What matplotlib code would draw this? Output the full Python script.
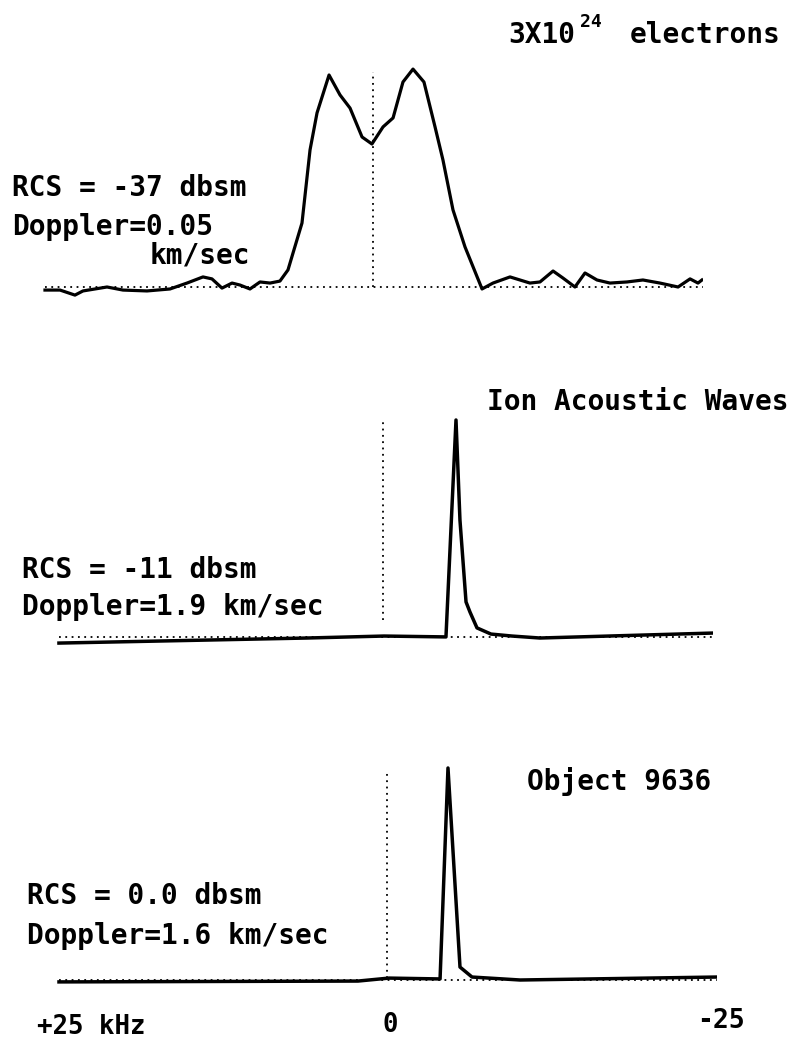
import matplotlib
matplotlib.use("Agg")
import matplotlib.pyplot as plt

# frequency in kHz (+25 on the left, -25 on the right), relative power
electrons_khz = [24.85, 23.71, 22.58, 21.97, 20.15, 18.94, 17.12, 15.38, 14.09, 12.88,
                 12.20, 11.44, 10.68, 10.08, 9.32, 8.56, 7.80, 7.05, 6.44, 6.06,
                 5.38, 4.77, 4.24, 3.33, 2.50, 1.74, 0.83, 0.08, -0.76, -1.52,
                 -2.27, -3.03, -3.86, -4.70, -5.30, -6.06, -6.97, -8.26, -9.09, -10.38,
                 -11.89, -12.65, -13.64, -14.39, -15.30, -16.06, -16.97, -17.95, -19.24, -20.45,
                 -21.74, -23.11, -24.02, -24.62, -24.92]
electrons_pow = [-0.014, -0.014, -0.037, -0.018, 0.0, -0.014, -0.018, -0.009, 0.018, 0.046,
                 0.037, -0.005, 0.018, 0.009, -0.009, 0.023, 0.018, 0.027, 0.078, 0.155,
                 0.292, 0.626, 0.795, 0.968, 0.877, 0.817, 0.685, 0.653, 0.731, 0.772,
                 0.936, 0.995, 0.936, 0.731, 0.580, 0.352, 0.183, -0.009, 0.018, 0.046,
                 0.018, 0.023, 0.073, 0.041, 0.0, 0.064, 0.032, 0.018, 0.023, 0.032,
                 0.018, 0.0, 0.037, 0.018, 0.032]

ion_khz = [24.55, 5.76, -0.08, -4.77, -5.53, -5.83, -6.29, -6.59, -7.12, -8.18, -9.77, -11.89, -25.23]
ion_pow = [-0.014, 0.009, 0.018, 0.014, 1.0, 0.545, 0.173, 0.127, 0.055, 0.027, 0.018, 0.009, 0.032]

obj_khz = [24.85, 2.20, -0.15, -4.02, -4.62, -5.53, -6.44, -10.08, -25.0]
obj_pow = [-0.009, -0.005, 0.009, 0.005, 1.0, 0.061, 0.014, 0.0, 0.014]

W, H = 798, 1043
fig = plt.figure(figsize=(W / 100, H / 100), dpi=100)

PX_PER_KHZ = 13.2
YLIM = (-0.15, 1.1)


def panel(zero_x, base_y, unit_h):
    # place an axes so that 0 kHz and zero power land at the given pixels
    left = zero_x - 25 * PX_PER_KHZ
    bottom = base_y - YLIM[0] * unit_h
    top = base_y - YLIM[1] * unit_h
    ax = fig.add_axes([left / W, 1 - bottom / H, 50 * PX_PER_KHZ / W, (bottom - top) / H])
    ax.set_xlim(25, -25)
    ax.set_ylim(*YLIM)
    ax.axis("off")
    return ax


dots = dict(color="black", lw=1.3, linestyle=(0, (1, 2.5)))

ax1 = panel(373, 287, 219)
ax1.plot([electrons_khz[0], -25.5], [0, 0], **dots)
ax1.plot([0, 0], [0, 0.98], **dots)
ax1.plot(electrons_khz, electrons_pow, color="black", lw=2.3)

ax2 = panel(383, 640, 220)
ax2.plot([ion_khz[0], -25.6], [0.014, 0.014], **dots)
ax2.plot([0, 0], [0.09, 1.0], **dots)
ax2.plot(ion_khz, ion_pow, color="black", lw=2.5)

ax3 = panel(387, 980, 212)
ax3.plot([obj_khz[0], -25.7], [0, 0], **dots)
ax3.plot([0, 0], [0.01, 0.98], **dots)
ax3.plot(obj_khz, obj_pow, color="black", lw=2.5)

font = dict(family="DejaVu Sans Mono", weight="bold", ha="left", va="center")


def label(x, y, s, size=20):
    fig.text(x / W, 1 - y / H, s, fontsize=size, **font)


label(508, 35, "3X10")
label(580, 22, "24", size=13)
label(630, 35, "electrons")
label(12, 188, "RCS = -37 dbsm")
label(12, 227, "Doppler=0.05")
label(150, 255, "km/sec")

label(487, 402, "Ion Acoustic Waves")
label(22, 570, "RCS = -11 dbsm")
label(22, 607, "Doppler=1.9 km/sec")

label(527, 781, "Object 9636")
label(27, 896, "RCS = 0.0 dbsm")
label(27, 936, "Doppler=1.6 km/sec")

label(37, 1027, "+25 kHz", size=18.5)
label(382, 1025, "0", size=18.5)
label(697, 1021, "-25", size=19)

fig.savefig("out.png", dpi=100)
